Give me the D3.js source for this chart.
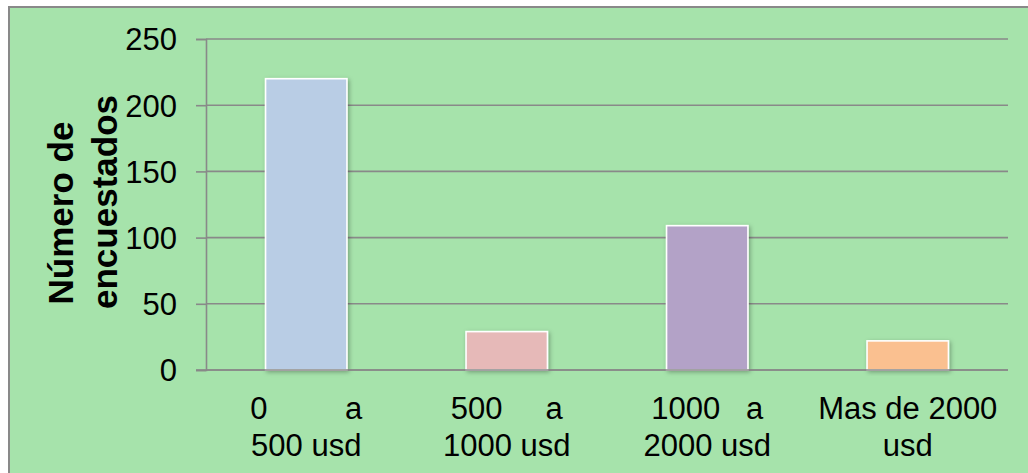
<!DOCTYPE html>
<html>
<head>
<meta charset="utf-8">
<script src="https://cdn.jsdelivr.net/npm/d3@7"></script>
<style>
  html, body { margin: 0; padding: 0; background: #ffffff; }
  svg { display: block; }
  text { font-family: "Liberation Sans", Arial, sans-serif; fill: #000; }
</style>
</head>
<body>
<svg id="chart" width="1028" height="473"></svg>
<script>
// Income ranges (each label keeps its own line breaks and spacing)
const categories = ["0 a 500 usd", "500 a 1000 usd", "1000 a 2000 usd", "Mas de 2000 usd"];
const categoryLines = [
  ["0         a", "500 usd"],
  ["500     a", "1000 usd"],
  ["1000   a", "2000 usd"],
  ["Mas de 2000", "usd"]
];
// Number of respondents per range
const respondents = [220, 29, 109, 22];
const barColors = ["#b9cde5", "#e6b9b8", "#b3a2c7", "#fac090"];
const yTicks = [0, 50, 100, 150, 200, 250];
const yTitleLines = ["Número de", "encuestados"];

const svg = d3.select("#chart");
const W = 1028, H = 473;
const plot = { left: 206, right: 1008, top: 39, bottom: 370 };

// Shadow under bars
const defs = svg.append("defs");
const f = defs.append("filter").attr("id", "barShadow")
  .attr("x", "-20%").attr("y", "-20%").attr("width", "140%").attr("height", "140%");
f.append("feDropShadow").attr("dx", 1.5).attr("dy", 1.5)
  .attr("stdDeviation", 2).attr("flood-color", "#000").attr("flood-opacity", 0.3);

// Chart area background with border
svg.append("rect")
  .attr("x", 9).attr("y", 7).attr("width", W + 20).attr("height", H + 20)
  .attr("fill", "#a6e3ab").attr("stroke", "#898989").attr("stroke-width", 2);

const x = d3.scaleBand()
  .domain(categories)
  .range([plot.left, plot.right])
  .paddingInner(0.594)
  .paddingOuter(0.297);

const y = d3.scaleLinear()
  .domain([0, 250])
  .range([plot.bottom, plot.top]);

// Horizontal gridlines
svg.append("g")
  .selectAll("line")
  .data(yTicks)
  .join("line")
  .attr("x1", plot.left).attr("x2", plot.right)
  .attr("y1", d => y(d)).attr("y2", d => y(d))
  .attr("stroke", "#898989").attr("stroke-width", 1.6);

// Y axis with outward ticks
const yAxis = d3.axisLeft(y).tickValues(yTicks).tickSize(10).tickPadding(19);
const gy = svg.append("g").attr("transform", `translate(${plot.left},0)`).call(yAxis);
gy.select(".domain").attr("stroke", "#898989").attr("stroke-width", 1.6);
gy.selectAll(".tick line").attr("stroke", "#898989").attr("stroke-width", 1.6);
gy.selectAll(".tick text")
  .attr("font-size", 31)
  .attr("font-family", "'Liberation Sans', Arial, sans-serif")
  .attr("fill", "#000")
  .attr("dy", "0.35em");

// Bars
svg.append("g")
  .selectAll("rect")
  .data(respondents)
  .join("rect")
  .attr("x", (d, i) => x(categories[i]))
  .attr("width", x.bandwidth())
  .attr("y", d => y(d))
  .attr("height", d => y(0) - y(d))
  .attr("fill", (d, i) => barColors[i])
  .attr("stroke", "#ffffff")
  .attr("stroke-width", 1.6)
  .attr("filter", "url(#barShadow)");

// X axis baseline
svg.append("line")
  .attr("x1", plot.left - 10).attr("x2", plot.right)
  .attr("y1", y(0)).attr("y2", y(0))
  .attr("stroke", "#898989").attr("stroke-width", 1.6);

// Category labels (two lines each)
const xl = svg.append("g");
categories.forEach((c, i) => {
  const cx = x(c) + x.bandwidth() / 2;
  const t = xl.append("text")
    .attr("text-anchor", "middle")
    .attr("font-size", 31)
    .style("white-space", "pre");
  categoryLines[i].forEach((line, j) => {
    t.append("tspan")
      .attr("x", cx)
      .attr("y", y(0) + 49 + j * 37)
      .text(line);
  });
});

// Y axis title
const yt = svg.append("text")
  .attr("font-size", 35)
  .attr("font-weight", "bold")
  .attr("text-anchor", "middle")
  .attr("transform", "rotate(-90)");
const titleCenters = [213, 202];
yTitleLines.forEach((line, j) => {
  yt.append("tspan")
    .attr("x", -titleCenters[j])
    .attr("y", 73 + j * 44)
    .text(line);
});
</script>
</body>
</html>
